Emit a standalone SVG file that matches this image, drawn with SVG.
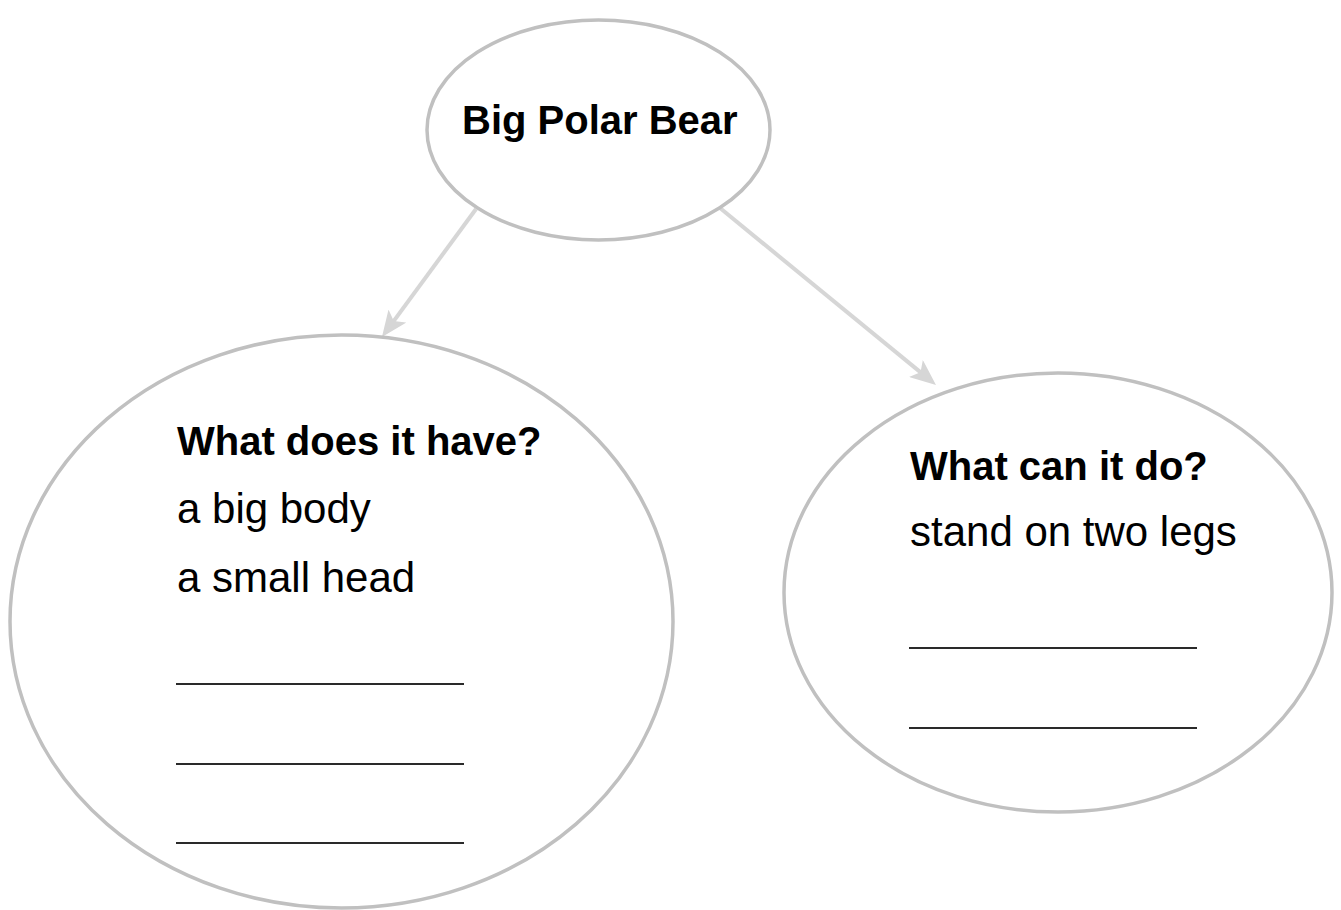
<svg xmlns="http://www.w3.org/2000/svg" width="1341" height="910" viewBox="0 0 1341 910">
  <style>
    .node { fill: #ffffff; stroke: #c0c0c0; stroke-width: 3.5; }
    .title { font-family: "Liberation Sans", Arial, sans-serif; font-weight: bold; font-size: 40px; fill: #000; }
    .item { font-family: "Liberation Sans", Arial, sans-serif; font-size: 42px; fill: #000; }
    .blank { stroke: #2a2a2a; stroke-width: 2; }
    .conn { stroke: #d6d6d6; stroke-width: 4; fill: none; marker-end: url(#arrow); }
  </style>
  <defs>
    <marker id="arrow" viewBox="0 0 26 22" refX="18" refY="11" markerWidth="26" markerHeight="22" orient="auto" markerUnits="userSpaceOnUse">
      <path d="M0,0 L26,11 L0,22 L6,11 z" fill="#d6d6d6"/>
    </marker>
  </defs>
  <rect width="1341" height="910" fill="#ffffff"/>
  <g id="connectors">
    <line class="conn" x1="476" y1="209" x2="386.7" y2="330.6"/>
    <line class="conn" x1="720" y1="208" x2="929.8" y2="379.9"/>
  </g>
  <g id="node-bear">
    <ellipse class="node" cx="598.5" cy="130" rx="171.5" ry="110"/>
    <text class="title" x="462" y="134">Big Polar Bear</text>
  </g>
  <g id="node-have">
    <ellipse class="node" cx="341.5" cy="621.5" rx="331.5" ry="286.5"/>
    <text class="title" x="177" y="455">What does it have?</text>
    <text class="item" x="177" y="523">a big body</text>
    <text class="item" x="177" y="592">a small head</text>
    <line class="blank" x1="176" y1="684" x2="464" y2="684"/>
    <line class="blank" x1="176" y1="764" x2="464" y2="764"/>
    <line class="blank" x1="176" y1="843" x2="464" y2="843"/>
  </g>
  <g id="node-do">
    <ellipse class="node" cx="1058" cy="592.5" rx="274" ry="219.5"/>
    <text class="title" x="910" y="480">What can it do?</text>
    <text class="item" x="910" y="546">stand on two legs</text>
    <line class="blank" x1="909" y1="648" x2="1197" y2="648"/>
    <line class="blank" x1="909" y1="728" x2="1197" y2="728"/>
  </g>
</svg>
